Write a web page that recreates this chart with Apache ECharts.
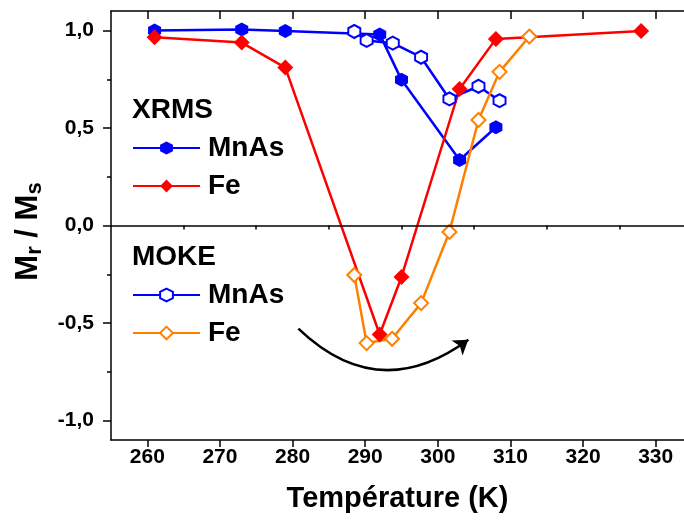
<!DOCTYPE html>
<html>
<head>
<meta charset="utf-8">
<script src="https://cdn.jsdelivr.net/npm/echarts@6/dist/echarts.min.js"></script>
<style>html,body{margin:0;padding:0;background:#fff}#c{width:684px;height:520px}</style>
</head>
<body>
<div id="c"></div>
<script>
// Data
const xrmsMnAsT = [261, 273, 279, 292, 295, 303, 308];
const xrmsMnAsV = [1.0, 1.005, 0.998, 0.98, 0.747, 0.336, 0.504];
const xrmsFeT = [261, 273, 279, 292, 295, 303, 308, 328];
const xrmsFeV = [0.966, 0.938, 0.81, -0.559, -0.264, 0.70, 0.957, 0.998];
const mokeMnAsT = [288.5, 290.2, 293.8, 297.7, 301.6, 305.6, 308.5];
const mokeMnAsV = [0.995, 0.949, 0.935, 0.863, 0.649, 0.714, 0.64];
const mokeFeT = [288.5, 290.2, 293.7, 297.7, 301.6, 305.6, 308.5, 312.6];
const mokeFeV = [-0.254, -0.603, -0.581, -0.398, -0.033, 0.541, 0.788, 0.969];
const arrowStart = [280.8, -0.529];
const arrowEnd = [304.2, -0.586];

const xMajor = [260, 270, 280, 290, 300, 310, 320, 330];
const xMinor = [265, 275, 285, 295, 305, 315, 325];
const yMajor = [-1, -0.5, 0, 0.5, 1];
const yMinor = [-0.75, -0.25, 0.25, 0.75];
// the original frame runs to 335 K, just past the right edge of the picture
const xRange = [255, 333.9];
const yRange = [-1.1, 1.1];

const FONT = '"Liberation Sans", Arial, sans-serif';
const BLUE = '#0000ff', RED = '#ff0000', ORANGE = '#ff8000';
const HEX = 'path://M0,-1 L0.866,-0.5 L0.866,0.5 L0,1 L-0.866,0.5 L-0.866,-0.5 Z';

const zip = (a, b) => a.map((v, i) => [v, b[i]]);

function xAx(pos, vals, len, inside, extra) {
  return Object.assign({
    type: 'value', position: pos, min: xRange[0], max: xRange[1],
    axisLine: { show: false },
    axisTick: { show: true, inside: inside, length: len, customValues: vals, lineStyle: { color: '#000', width: 1.5 } },
    axisLabel: { show: false },
    splitLine: { show: false }
  }, extra || {});
}
function yAx(pos, vals, len, inside, extra) {
  return Object.assign({
    type: 'value', position: pos, min: yRange[0], max: yRange[1],
    axisLine: { show: false },
    axisTick: { show: true, inside: inside, length: len, customValues: vals, lineStyle: { color: '#000', width: 1.5 } },
    axisLabel: { show: false },
    splitLine: { show: false }
  }, extra || {});
}

const legendText = { color: '#000', fontSize: 28, fontWeight: 'bold', fontFamily: FONT, lineHeight: 27, padding: [0, 0, 0, 3] };

const chart = echarts.init(document.getElementById('c'), null, { renderer: 'canvas' });
chart.setOption({
  animation: false,
  backgroundColor: '#fff',
  grid: { left: 111, top: 11, right: 0, height: 429, show: false },
  xAxis: [
    xAx('bottom', xMajor, 7, false, {
      axisLine: { show: true, onZero: false, lineStyle: { color: '#000', width: 1.5 } },
      axisLabel: { show: true, customValues: xMajor, margin: 7, color: '#000', fontSize: 21, fontWeight: 'bold', fontFamily: FONT },
      name: 'Température (K)', nameLocation: 'middle', nameGap: 44,
      nameTextStyle: { color: '#000', fontSize: 29, fontWeight: 'bold', fontFamily: FONT }
    }),
    xAx('bottom', xMinor, 4, false),
    xAx('top', xMajor, 8, true, { axisLine: { show: true, onZero: false, lineStyle: { color: '#000', width: 1.5 } } }),
    xAx('top', xMinor, 4, true)
  ],
  yAxis: [
    yAx('left', yMajor, 8, false, {
      axisLine: { show: true, onZero: false, lineStyle: { color: '#000', width: 1.5 } },
      axisLabel: { show: true, customValues: yMajor, margin: 17, color: '#000', fontSize: 21, fontWeight: 'bold', fontFamily: FONT,
        formatter: v => v.toFixed(1).replace('.', ',') },
      name: '{a|M}{b|r}{a| / M}{b|s}', nameLocation: 'middle', nameRotate: 90, nameGap: 65,
      nameTextStyle: {
        color: '#000', fontFamily: FONT, padding: [0, 12, 0, 0],
        rich: {
          a: { fontSize: 31, fontWeight: 'bold', fontFamily: FONT, color: '#000', lineHeight: 36, verticalAlign: 'middle' },
          b: { fontSize: 22, fontWeight: 'bold', fontFamily: FONT, color: '#000', lineHeight: 18, verticalAlign: 'bottom' }
        }
      }
    }),
    yAx('left', yMinor, 4, false)
  ],
  legend: [
    {
      data: ['MnAs XRMS', 'Fe XRMS'], orient: 'vertical', left: 132, top: 134, padding: 0,
      itemWidth: 67, itemHeight: 16, itemGap: 10,
      formatter: n => n.split(' ')[0],
      textStyle: legendText
    },
    {
      data: ['MnAs MOKE', 'Fe MOKE'], orient: 'vertical', left: 132, top: 281, padding: 0,
      itemWidth: 67, itemHeight: 16, itemGap: 10,
      formatter: n => n.split(' ')[0],
      textStyle: legendText
    }
  ],
  graphic: [
    { type: 'text', left: 132, top: 96, style: { text: 'XRMS', font: 'bold 28px ' + FONT, fill: '#000' } },
    { type: 'text', left: 132, top: 243, style: { text: 'MOKE', font: 'bold 28px ' + FONT, fill: '#000' } }
  ],
  series: [
    {
      name: 'MnAs XRMS', type: 'line', data: zip(xrmsMnAsT, xrmsMnAsV),
      symbol: HEX, symbolSize: [13, 14],
      lineStyle: { color: BLUE, width: 2.5 }, itemStyle: { color: BLUE },
      markLine: {
        silent: true, symbol: 'none', label: { show: false },
        lineStyle: { color: '#000', width: 1.5, type: 'solid' },
        data: [{ yAxis: 0 }]
      }
    },
    {
      name: 'Fe XRMS', type: 'line', data: zip(xrmsFeT, xrmsFeV),
      symbol: 'diamond', symbolSize: 16,
      lineStyle: { color: RED, width: 2.5 }, itemStyle: { color: RED }
    },
    {
      name: 'MnAs MOKE', type: 'line', data: zip(mokeMnAsT, mokeMnAsV),
      symbol: HEX, symbolSize: [12, 13],
      lineStyle: { color: BLUE, width: 2.5 }, itemStyle: { color: '#fff', borderColor: BLUE, borderWidth: 2 }
    },
    {
      name: 'Fe MOKE', type: 'line', data: zip(mokeFeT, mokeFeV),
      symbol: 'diamond', symbolSize: 14,
      lineStyle: { color: ORANGE, width: 2.5 }, itemStyle: { color: '#fff', borderColor: ORANGE, borderWidth: 2 }
    },
    {
      name: 'arrow', type: 'lines', coordinateSystem: 'cartesian2d', silent: true,
      symbol: ['none', 'arrow'], symbolSize: 14,
      lineStyle: { color: '#000', width: 2.5, curveness: -0.42, opacity: 1 },
      data: [{ coords: [arrowStart, arrowEnd] }]
    }
  ]
});
</script>
</body>
</html>
